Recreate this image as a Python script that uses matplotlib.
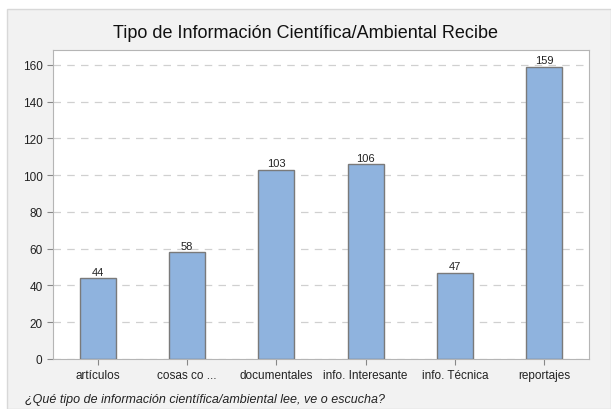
import matplotlib.pyplot as plt
from matplotlib.patches import Rectangle

categories = ['artículos', 'cosas co ...', 'documentales', 'info. Interesante', 'info. Técnica', 'reportajes']
counts = [44, 58, 103, 106, 47, 159]
yticks = [0, 20, 40, 60, 80, 100, 120, 140, 160]

plt.rcParams['font.family'] = ['Liberation Sans', 'DejaVu Sans']

fig = plt.figure(figsize=(6.11, 4.10), dpi=100)
fig.patch.set_facecolor('white')

# gray panel behind the chart
panel = Rectangle((7 / 611, 0), 1 - 7 / 611, 1 - 10 / 410, transform=fig.transFigure,
                  facecolor='#f2f2f2', edgecolor='#d8d8d8', linewidth=1, zorder=-10)
fig.patches.append(panel)

ax = fig.add_axes([53 / 611, 1 - 360 / 410, (589 - 53) / 611, (360 - 51) / 410])
ax.set_facecolor('white')

x = range(len(categories))
bars = ax.bar(x, counts, width=0.40, color='#8fb3de', edgecolor='#7a7a7a', linewidth=1, zorder=3)
for xi, v in zip(x, counts):
    ax.text(xi, v + 0.8, str(v), ha='center', va='bottom', fontsize=8, color='#222222')

ax.set_xlim(-0.5, len(categories) - 0.5)
ax.set_ylim(0, 168)
ax.set_yticks(yticks)
ax.set_xticks(list(x))
ax.set_xticklabels(categories)
ax.tick_params(axis='both', labelsize=8.5, colors='#888888', labelcolor='#222222', length=4)
ax.yaxis.grid(True, linestyle=(0, (6, 5)), color='#d0d0d0', linewidth=0.9, zorder=0)
ax.set_axisbelow(True)
for s in ax.spines.values():
    s.set_color('#b5b5b5')

fig.text(0.5, 1 - 33 / 410, 'Tipo de Información Científica/Ambiental Recibe',
         ha='center', va='center', fontsize=13, color='#111111')
fig.text(25 / 611, 1 - 400 / 410, '¿Qué tipo de información científica/ambiental lee, ve o escucha?',
         ha='left', va='center', fontsize=9, style='italic', color='#222222')

fig.savefig('out.png', dpi=100, facecolor=fig.get_facecolor())
